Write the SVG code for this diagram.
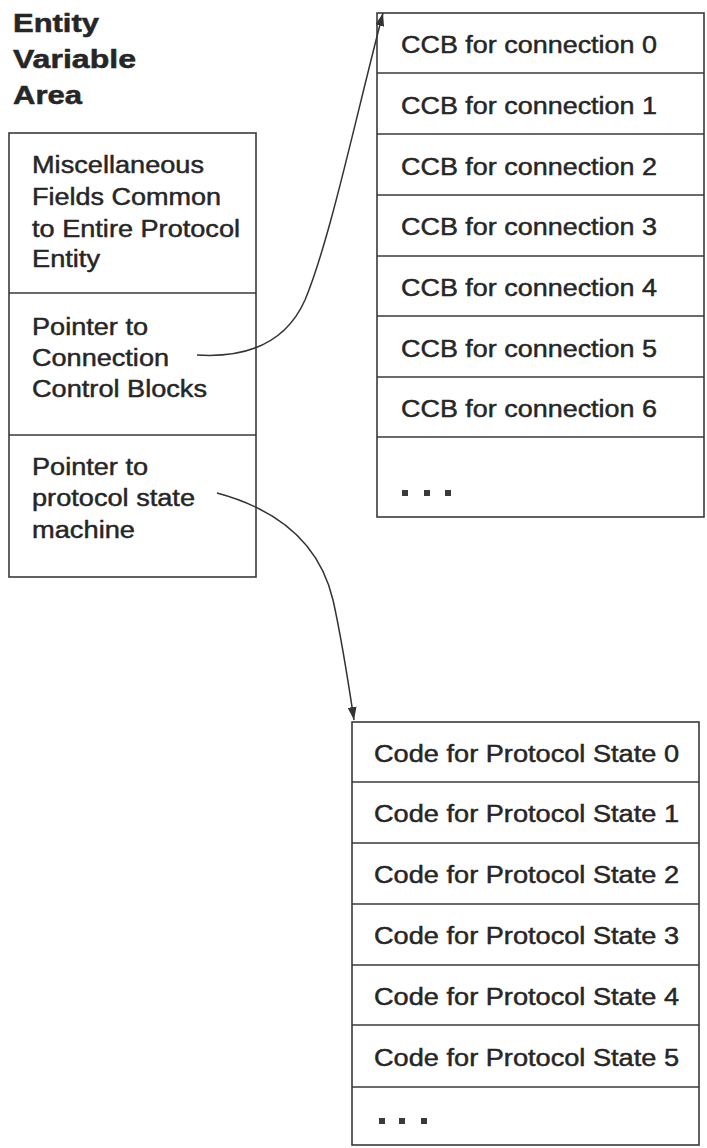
<svg xmlns="http://www.w3.org/2000/svg" width="707" height="1148" viewBox="0 0 707 1148">
<style>
  .box { fill: #ffffff; stroke: #3a3a3a; stroke-width: 1.6; }
  .div { stroke: #3a3a3a; stroke-width: 1.6; fill: none; }
  .t { font-family: "Liberation Sans", Arial, sans-serif; font-size: 23px; fill: #262626; stroke: #262626; stroke-width: 0.45; }
  .title { font-family: "Liberation Sans", Arial, sans-serif; font-size: 25px; font-weight: bold; fill: #262626; stroke: #262626; stroke-width: 0.5; }
  .dot { fill: #3a3a3a; }
  .conn { fill: none; stroke: #333333; stroke-width: 1.5; }
</style>
<defs>
  <marker id="arrow" markerUnits="userSpaceOnUse" markerWidth="14" markerHeight="10" refX="13" refY="4.5" orient="auto">
    <path d="M0,0 L13,4.5 L0,9 z" fill="#333333"/>
  </marker>
</defs>
<rect width="707" height="1148" fill="#ffffff"/>

<g id="title">
  <text class="title" x="13" y="32" textLength="86" lengthAdjust="spacingAndGlyphs">Entity</text>
  <text class="title" x="13" y="68" textLength="123" lengthAdjust="spacingAndGlyphs">Variable</text>
  <text class="title" x="13" y="104" textLength="69" lengthAdjust="spacingAndGlyphs">Area</text>
</g>

<g id="entity-area">
  <rect class="box" x="9" y="133" width="247" height="444"/>
  <line class="div" x1="9" y1="293" x2="256" y2="293"/>
  <line class="div" x1="9" y1="435" x2="256" y2="435"/>
  <g id="misc-fields">
    <text class="t" x="32" y="173" textLength="172" lengthAdjust="spacingAndGlyphs">Miscellaneous</text>
    <text class="t" x="32" y="205" textLength="189" lengthAdjust="spacingAndGlyphs">Fields Common</text>
    <text class="t" x="32" y="237" textLength="208" lengthAdjust="spacingAndGlyphs">to Entire Protocol</text>
    <text class="t" x="32" y="267" textLength="68" lengthAdjust="spacingAndGlyphs">Entity</text>
  </g>
  <g id="ptr-ccb">
    <text class="t" x="32" y="335" textLength="116" lengthAdjust="spacingAndGlyphs">Pointer to</text>
    <text class="t" x="32" y="366" textLength="137" lengthAdjust="spacingAndGlyphs">Connection</text>
    <text class="t" x="32" y="397" textLength="175" lengthAdjust="spacingAndGlyphs">Control Blocks</text>
  </g>
  <g id="ptr-state">
    <text class="t" x="32" y="475" textLength="116" lengthAdjust="spacingAndGlyphs">Pointer to</text>
    <text class="t" x="32" y="506" textLength="163" lengthAdjust="spacingAndGlyphs">protocol state</text>
    <text class="t" x="32" y="538" textLength="103" lengthAdjust="spacingAndGlyphs">machine</text>
  </g>
</g>

<g id="ccb-table">
  <rect class="box" x="377" y="13" width="327" height="504"/>
  <line class="div" x1="377" y1="73" x2="704" y2="73"/>
  <line class="div" x1="377" y1="134" x2="704" y2="134"/>
  <line class="div" x1="377" y1="195" x2="704" y2="195"/>
  <line class="div" x1="377" y1="256" x2="704" y2="256"/>
  <line class="div" x1="377" y1="316" x2="704" y2="316"/>
  <line class="div" x1="377" y1="377" x2="704" y2="377"/>
  <line class="div" x1="377" y1="437" x2="704" y2="437"/>
  <text class="t" x="401" y="53" textLength="256" lengthAdjust="spacingAndGlyphs">CCB for connection 0</text>
  <text class="t" x="401" y="114" textLength="256" lengthAdjust="spacingAndGlyphs">CCB for connection 1</text>
  <text class="t" x="401" y="175" textLength="256" lengthAdjust="spacingAndGlyphs">CCB for connection 2</text>
  <text class="t" x="401" y="235" textLength="256" lengthAdjust="spacingAndGlyphs">CCB for connection 3</text>
  <text class="t" x="401" y="296" textLength="256" lengthAdjust="spacingAndGlyphs">CCB for connection 4</text>
  <text class="t" x="401" y="357" textLength="256" lengthAdjust="spacingAndGlyphs">CCB for connection 5</text>
  <text class="t" x="401" y="417" textLength="256" lengthAdjust="spacingAndGlyphs">CCB for connection 6</text>
  <rect class="dot" x="402" y="490" width="6" height="6"/>
  <rect class="dot" x="424" y="490" width="6" height="6"/>
  <rect class="dot" x="445" y="490" width="6" height="6"/>
</g>

<g id="state-table">
  <rect class="box" x="352" y="722" width="347" height="423"/>
  <line class="div" x1="352" y1="782" x2="699" y2="782"/>
  <line class="div" x1="352" y1="843" x2="699" y2="843"/>
  <line class="div" x1="352" y1="904" x2="699" y2="904"/>
  <line class="div" x1="352" y1="965" x2="699" y2="965"/>
  <line class="div" x1="352" y1="1025" x2="699" y2="1025"/>
  <line class="div" x1="352" y1="1087" x2="699" y2="1087"/>
  <text class="t" x="374" y="762" textLength="305" lengthAdjust="spacingAndGlyphs">Code for Protocol State 0</text>
  <text class="t" x="374" y="822" textLength="305" lengthAdjust="spacingAndGlyphs">Code for Protocol State 1</text>
  <text class="t" x="374" y="883" textLength="305" lengthAdjust="spacingAndGlyphs">Code for Protocol State 2</text>
  <text class="t" x="374" y="944" textLength="305" lengthAdjust="spacingAndGlyphs">Code for Protocol State 3</text>
  <text class="t" x="374" y="1005" textLength="305" lengthAdjust="spacingAndGlyphs">Code for Protocol State 4</text>
  <text class="t" x="374" y="1066" textLength="305" lengthAdjust="spacingAndGlyphs">Code for Protocol State 5</text>
  <rect class="dot" x="379" y="1118" width="6" height="6"/>
  <rect class="dot" x="399" y="1118" width="6" height="6"/>
  <rect class="dot" x="421" y="1118" width="6" height="6"/>
</g>

<g id="connectors">
  <path class="conn" d="M197,355 C245,358 285,345 305,300 C330,240 355,120 383,13" marker-end="url(#arrow)"/>
  <path class="conn" d="M217,493 C280,510 320,545 333,600 C342,640 348,680 354,720" marker-end="url(#arrow)"/>
</g>
</svg>
